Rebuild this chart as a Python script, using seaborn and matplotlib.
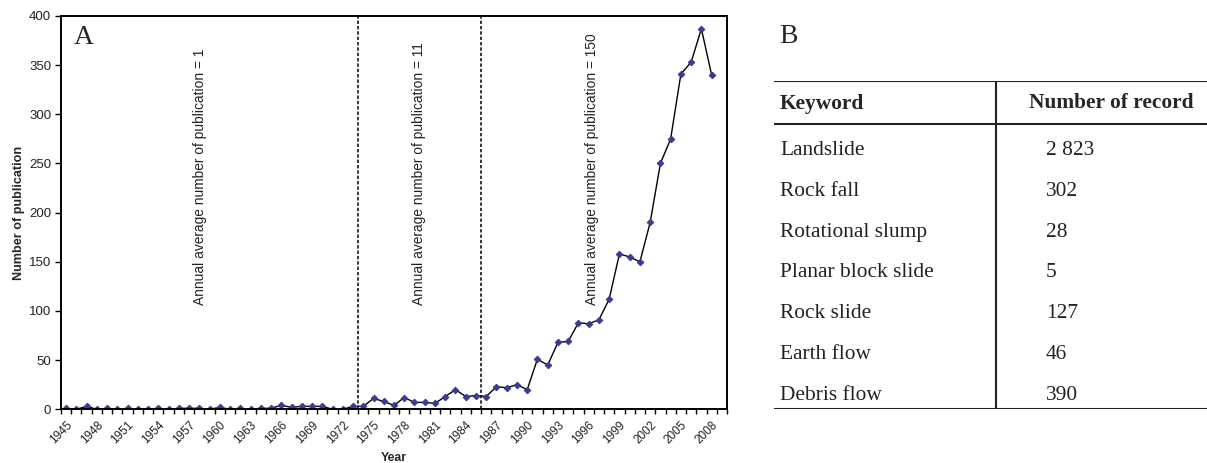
import matplotlib
matplotlib.use("Agg")
import matplotlib.pyplot as plt
from matplotlib.transforms import ScaledTranslation
import seaborn as sns
import pandas as pd
import numpy as np

# Annual publication counts, 1945-2008
years = list(range(1945, 2009))
publications = [
    1, 0, 3, 0, 1, 0, 1, 0, 0, 1,      # 1945-1954
    0, 1, 1, 1, 0, 2, 0, 1, 0, 1,      # 1955-1964
    1, 4, 2, 3, 3, 3, 0, 0, 3, 3,      # 1965-1974
    11, 8, 4, 12, 7, 7, 6, 13, 20, 13, # 1975-1984
    14, 13, 23, 22, 25, 20, 51, 45, 68, 69,   # 1985-1994
    88, 87, 91, 112, 158, 155, 150, 190, 250, 275,  # 1995-2004
    341, 353, 387, 340,                # 2005-2008
]
tick_years = list(range(1945, 2009, 3))
period_breaks = [1973.5, 1985.5]
period_labels = [
    "Annual average number of publication = 1",
    "Annual average number of publication = 11",
    "Annual average number of publication = 150",
]
period_label_x = [1958.1, 1979.4, 1996.3]

keywords = ["Landslide", "Rock fall", "Rotational slump", "Planar block slide",
            "Rock slide", "Earth flow", "Debris flow"]
record_counts = ["2 823", "302", "28", "5", "127", "46", "390"]

sns.set_style("ticks")
plt.rcParams["font.family"] = ["Liberation Sans", "DejaVu Sans"]

W, H = 1207, 463
fig = plt.figure(figsize=(W / 100, H / 100), dpi=100)


def fx(px):
    return px / W


def fy(py):
    return 1 - py / H


# ---- Panel A: line chart -------------------------------------------------
ax = fig.add_axes([fx(61), fy(409.3), (727 - 61) / W, (409.3 - 16) / H])
df = pd.DataFrame({"Year": years, "Publications": publications})
sns.lineplot(data=df, x="Year", y="Publications", ax=ax, color="black",
             linewidth=1.0, marker="D", markersize=3.3,
             markerfacecolor="#3a3a9c", markeredgecolor="#3a3a9c")

ax.set_xlim(1944.5, 2009.5)
ax.set_ylim(0, 400)
ax.set_yticks(np.arange(0, 401, 50))
ax.set_xticks(tick_years)
ax.set_xticklabels([str(y) for y in tick_years], rotation=45, ha="right",
                   rotation_mode="anchor", fontsize=8.5, color="#222222")
shift = ScaledTranslation(-11 / 100, 0, fig.dpi_scale_trans)
for lbl in ax.get_xticklabels():
    lbl.set_transform(lbl.get_transform() + shift)
ax.set_xticks(np.arange(1944.5, 2010, 1), minor=True)
ax.tick_params(axis="x", which="major", length=0, pad=7)
ax.tick_params(axis="x", which="minor", length=3.5, width=1.0, direction="out",
               color="black")
ax.tick_params(axis="y", length=4, width=1.0, labelsize=9.5, labelcolor="#222222",
               color="black", pad=3)

for spine in ax.spines.values():
    spine.set_visible(True)
    spine.set_color("black")
    spine.set_linewidth(1.4)

for xb in period_breaks:
    ax.axvline(xb, color="black", linewidth=1.1, linestyle=(0, (2.2, 1.3)))

for xt, label in zip(period_label_x, period_labels):
    ax.text(xt, 106, label, rotation=90, ha="center", va="bottom",
            fontsize=9.9, color="#222222")

ax.set_xlabel("Year", fontsize=8.8, fontweight="bold", labelpad=4)
ax.set_ylabel("Number of publication", fontsize=9.1, fontweight="bold", labelpad=3)

fig.text(fx(74), fy(25), "A", fontsize=20, family="Liberation Serif",
         ha="left", va="top")

# ---- Panel B: keyword table ---------------------------------------------
fig.text(fx(779), fy(24), "B", fontsize=20, family="Liberation Serif",
         ha="left", va="top")

tab = fig.add_axes([fx(774), fy(409.3), (W - 774) / W, (409.3 - 81) / H])
tab.set_xlim(774, W)
tab.set_ylim(409.3, 81)
tab.axis("off")

line_kw = dict(color="#222222", linewidth=1.5, solid_capstyle="butt")
tab.plot([774, W], [81, 81], **line_kw)
tab.plot([774, W], [124.3, 124.3], **line_kw)
tab.plot([774, W], [409.3, 409.3], **line_kw)
tab.plot([995.7, 995.7], [81, 409.3], **line_kw)

serif = "Liberation Serif"
fs = 15.4
tab.text(780, 103.5, "Keyword", family=serif, fontsize=fs, fontweight="bold",
         ha="left", va="center")
tab.text(1029, 103.5, "Number of record", family=serif, fontsize=fs,
         fontweight="bold", ha="left", va="center")
row_y = 150.5
for kw, cnt in zip(keywords, record_counts):
    tab.text(780, row_y, kw, family=serif, fontsize=fs, ha="left", va="center",
             color="#222222")
    tab.text(1046, row_y, cnt, family=serif, fontsize=fs, ha="left",
             va="center", color="#222222")
    row_y += 40.8

fig.savefig("out.png", dpi=100)
